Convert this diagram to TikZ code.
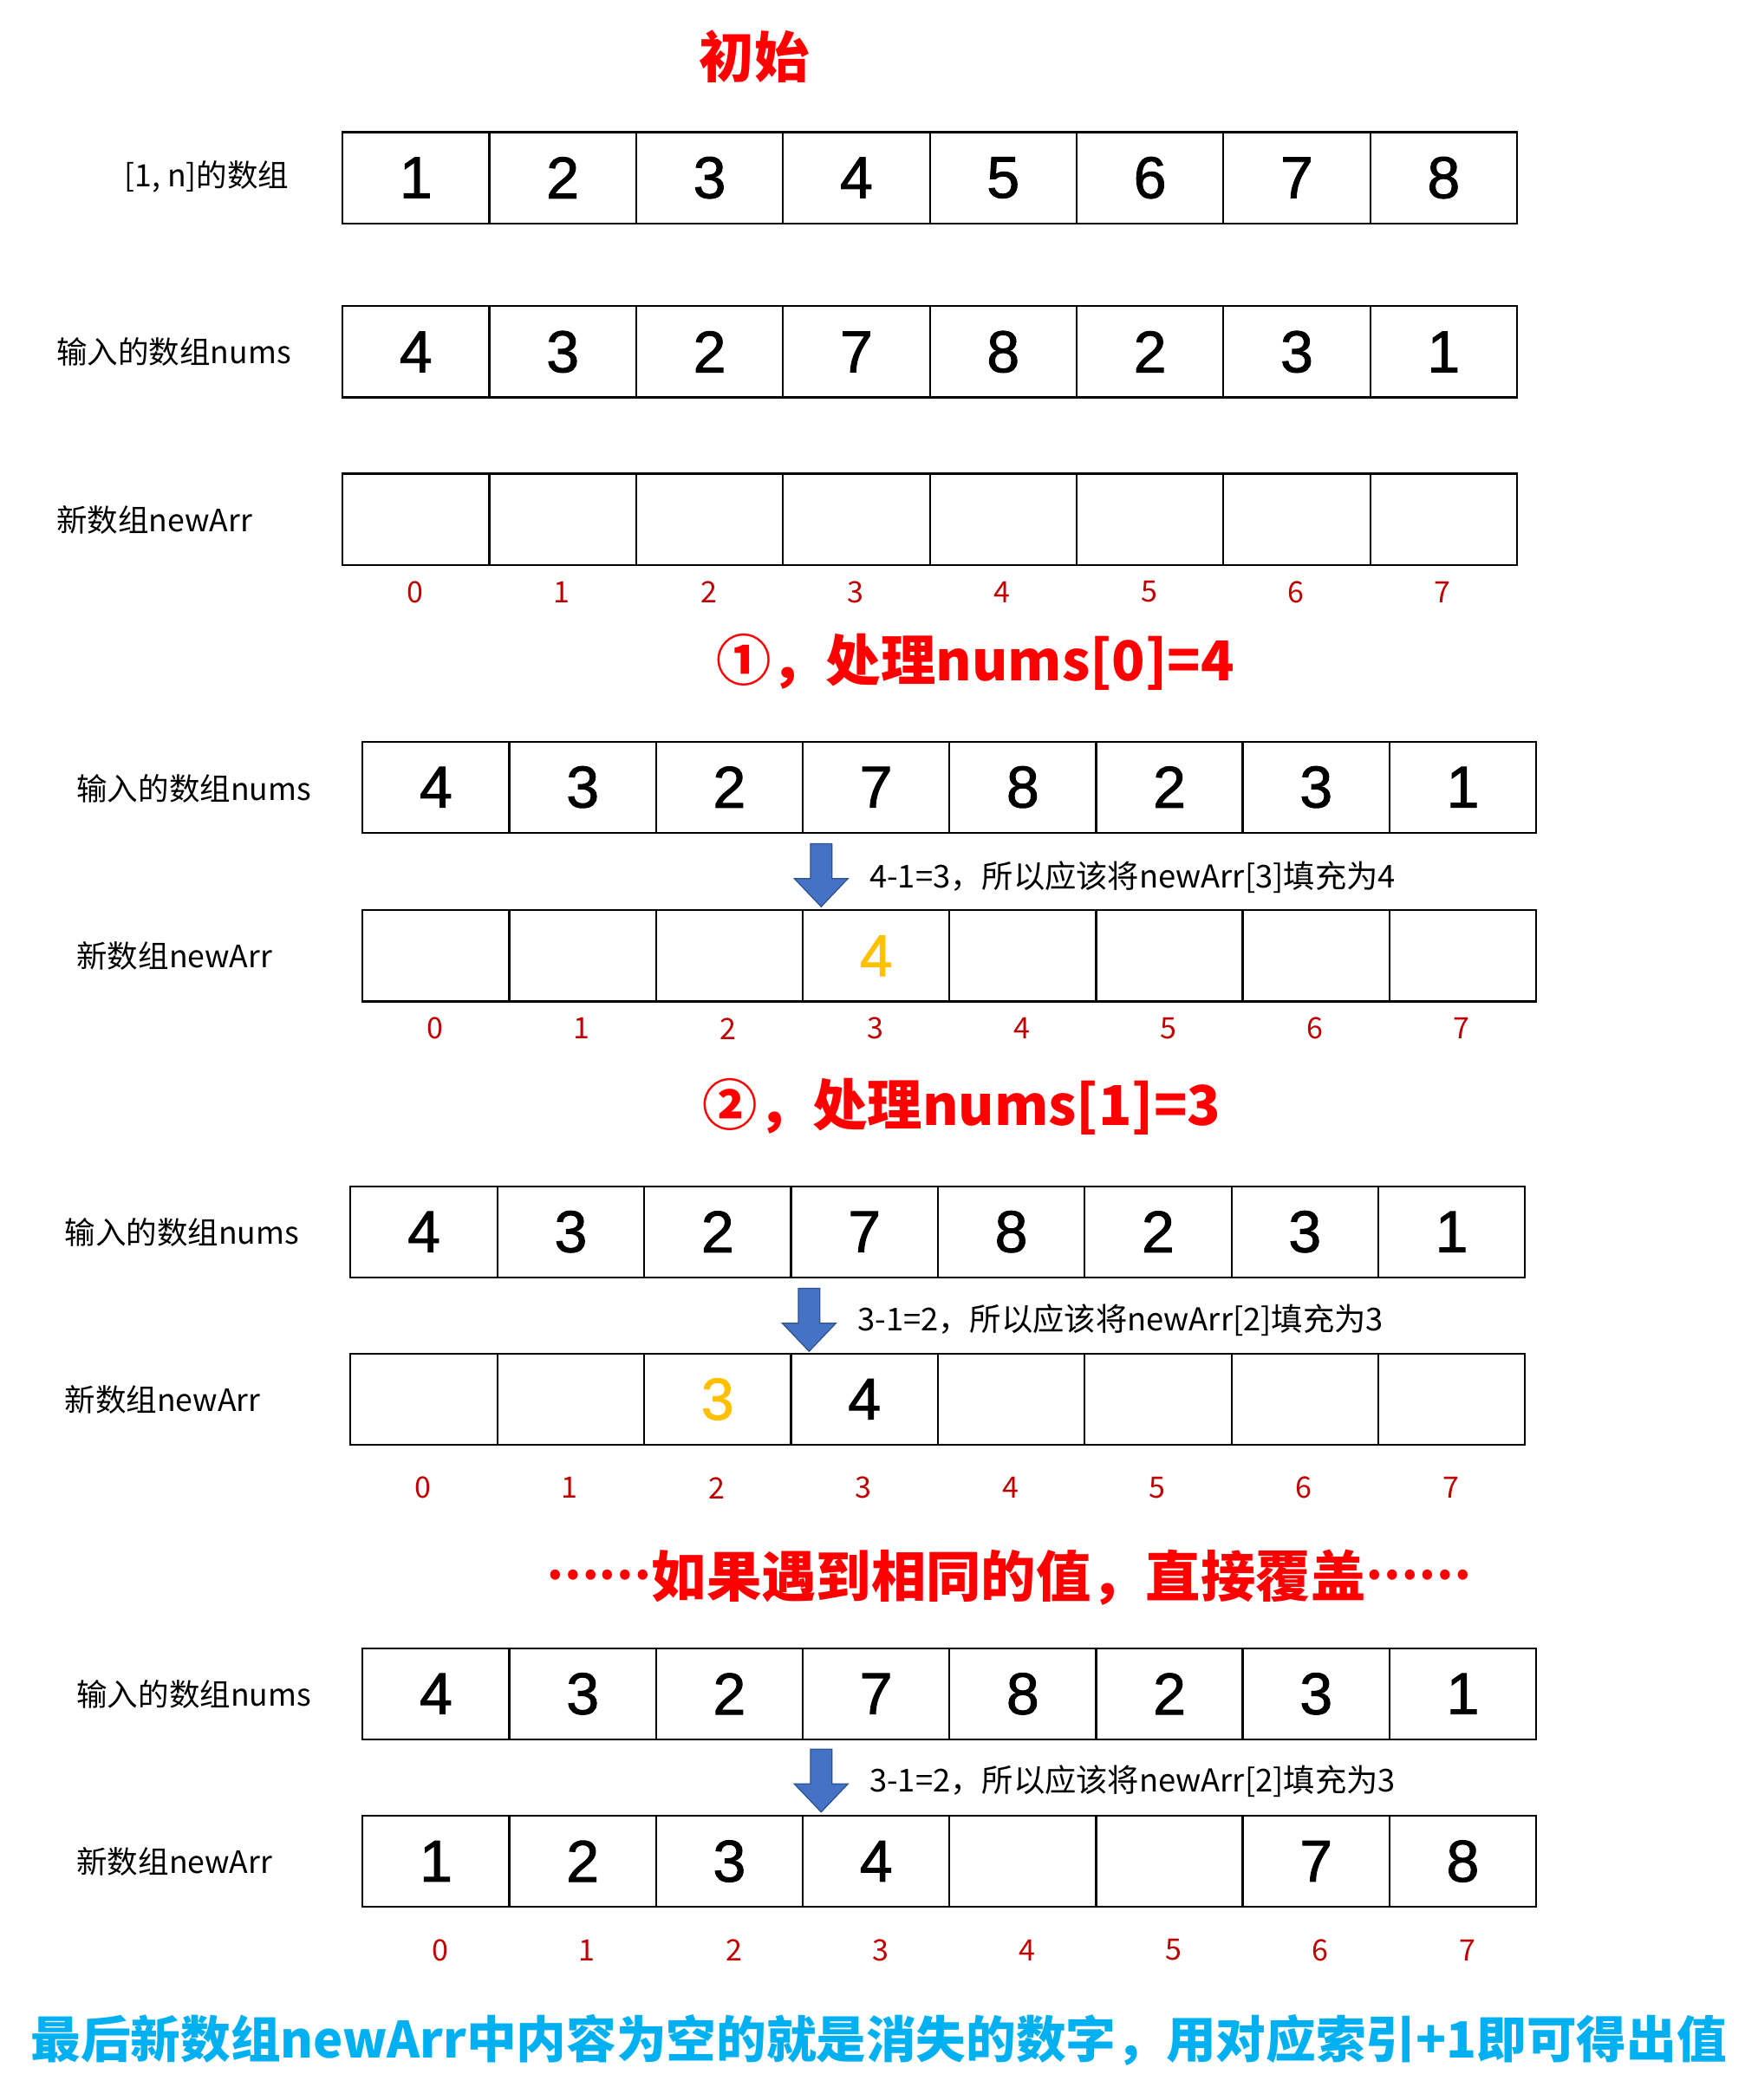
\documentclass[tikz,border=0pt]{standalone}
\usepackage{fontspec}
\setmainfont{Noto Sans CJK SC}
\newfontfamily\digitfont[FakeBold=1.4]{Liberation Sans}
\definecolor{idxred}{HTML}{C00000}
\definecolor{ayellow}{HTML}{FFC000}
\definecolor{arrowblue}{HTML}{4472C4}
\definecolor{arrowedge}{HTML}{2F528F}
\definecolor{acyan}{HTML}{00B0F0}
\newcommand\arrrow[5]{%
  \foreach \v [count=\i from 0] in {#5} {%
    \node[cell] (#1-\i) at ({#2+\i*#4},#3) {\v};%
  }%
}
\newcommand\idxrow[4]{%
  \foreach \i in {0,...,7} {%
    \node[idx] (#1-\i) at ({#2+(\i+0.5)*#4},#3) {\i};%
  }%
}
\newcommand\barrowat[3]{%
  \draw[barrow, shift={(#2,#3)}] (-8,0) -- (8,0) -- (8,26) -- (20,26) -- (0,47) -- (-20,26) -- (-8,26) -- cycle;
  \coordinate (#1) at (#2,#3);
}
\newcommand\middots{\raisebox{13pt}{\fontsize{35}{35}\selectfont ……}}
\begin{document}
\begin{tikzpicture}[x=1pt,y=-1pt,
  cell/.style={draw=black, line width=1.4pt, minimum width=109.6pt, minimum height=68pt, inner sep=0pt, anchor=north west, font=\digitfont\fontsize{44}{44}\selectfont},
  lbl/.style={font=\fontsize{23}{23}\selectfont, inner sep=0pt},
  idx/.style={text=idxred, font=\fontsize{22}{22}\selectfont, inner sep=0pt},
  head/.style={text=red, font=\bfseries\fontsize{41}{41}\selectfont, inner sep=0pt},
  note/.style={anchor=west, font=\fontsize{23.5}{23.5}\selectfont, inner sep=0pt},
  barrow/.style={fill=arrowblue, draw=arrowedge, line width=0.8pt}]
\useasboundingbox[fill=white] (0,0) rectangle (1312,1568);

% ---- initial ----
\node[head] (t0) at (563,42) {初始};
\node[lbl, anchor=east] (l1a) at (216,132) {[1, n]的数组};
\node[lbl, anchor=west] (l1b) at (42,263) {输入的数组nums};
\node[lbl, anchor=west] (l1c) at (42,388) {新数组newArr};
\arrrow{a1}{255}{98}{109.6}{1,2,3,4,5,6,7,8}
\arrrow{b1}{255}{228}{109.6}{4,3,2,7,8,2,3,1}
\arrrow{c1}{255}{353}{109.6}{{},{},{},{},{},{},{},{}}
\idxrow{i1}{255}{442}{109.6}

% ---- step 1 ----
\node[head] (t1) at (728,494) {①，处理nums[0]=4};
\node[lbl, anchor=west] (l2b) at (57,589) {输入的数组nums};
\node[lbl, anchor=west] (l2c) at (57,714) {新数组newArr};
\arrrow{b2}{270}{553}{109.5}{4,3,2,7,8,2,3,1}
\arrrow{c2}{270}{679}{109.5}{{},{},{},{\textcolor{ayellow}{4}},{},{},{},{}}
\idxrow{i2}{270}{768}{109.5}
\barrowat{ar2}{613}{630}
\node[note] (n2) at (649,655) {4-1=3，所以应该将newArr[3]填充为4};

% ---- step 2 ----
\node[head] (t2) at (718,826) {②，处理nums[1]=3};
\node[lbl, anchor=west] (l3b) at (48,920) {输入的数组nums};
\node[lbl, anchor=west] (l3c) at (48,1045) {新数组newArr};
\arrrow{b3}{261}{885}{109.6}{4,3,2,7,8,2,3,1}
\arrrow{c3}{261}{1010}{109.6}{{},{},{\textcolor{ayellow}{3}},4,{},{},{},{}}
\idxrow{i3}{261}{1111}{109.6}
\barrowat{ar3}{604}{962}
\node[note] (n3) at (640,986) {3-1=2，所以应该将newArr[2]填充为3};

% ---- overwrite ----
\node[head] (t3) at (753,1178) {\middots 如果遇到相同的值，直接覆盖\middots};
\node[lbl, anchor=west] (l4b) at (57,1265) {输入的数组nums};
\node[lbl, anchor=west] (l4c) at (57,1390) {新数组newArr};
\arrrow{b4}{270}{1230}{109.5}{4,3,2,7,8,2,3,1}
\arrrow{c4}{270}{1355}{109.5}{1,2,3,4,{},{},7,8}
\idxrow{i4}{274}{1456}{109.5}
\barrowat{ar4}{613}{1306}
\node[note] (n4) at (649,1330) {3-1=2，所以应该将newArr[2]填充为3};

% ---- conclusion ----
\node[text=acyan, font=\bfseries\fontsize{37.3}{37.3}\selectfont, inner sep=0pt] (fin) at (656,1523) {最后新数组newArr中内容为空的就是消失的数字，用对应索引+1即可得出值};
\end{tikzpicture}
\end{document}
